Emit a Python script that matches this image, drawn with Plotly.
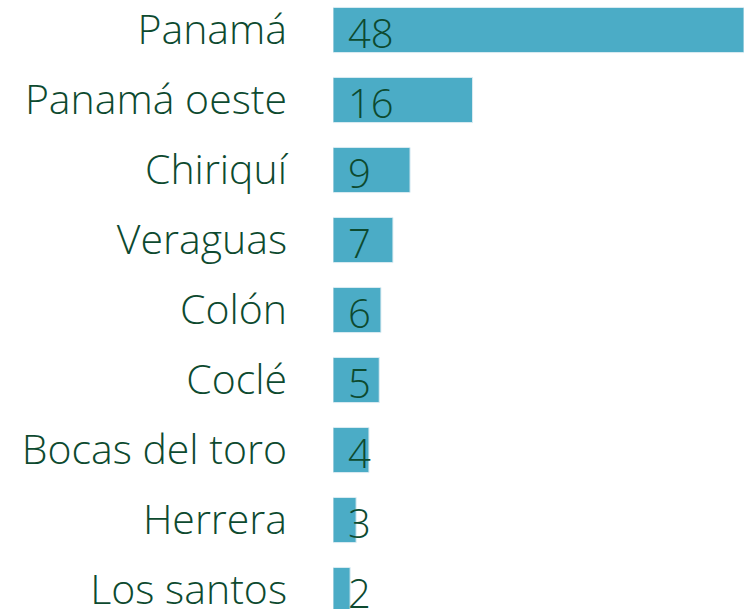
import plotly.graph_objects as go

categories = ["Panamá", "Panamá oeste", "Chiriquí", "Veraguas", "Colón",
              "Coclé", "Bocas del toro", "Herrera", "Los santos"]
values = [48.0, 16.3, 9.0, 7.0, 5.6, 5.4, 4.2, 2.7, 2.0]

TEXT_COLOR = "#0d4a2f"
BAR_COLOR = "#4bacc6"
FONT = "Open Sans"

fig = go.Figure(go.Bar(
    x=values, y=categories, orientation="h",
    marker=dict(color=BAR_COLOR, line=dict(color="#dcecf2", width=1)),
    width=0.645,
))

for c, v in zip(categories, values):
    fig.add_annotation(x=0, y=c, text=f"{v:.0f}", xref="x", yref="y",
                       xanchor="left", yanchor="middle", xshift=13, yshift=-2,
                       showarrow=False,
                       font=dict(family=FONT, size=40, color=TEXT_COLOR, weight=300))

fig.update_layout(
    width=744, height=609,
    margin=dict(l=333, r=0, t=0, b=0, autoexpand=False),
    plot_bgcolor="white", paper_bgcolor="white",
    showlegend=False,
    xaxis=dict(range=[0, 48], visible=False, automargin=False),
    yaxis=dict(range=[8.271, -0.4286], showgrid=False, zeroline=False,
               automargin=False,
               ticks="", ticklabelstandoff=45,
               tickfont=dict(family=FONT, size=41, color=TEXT_COLOR, weight=300)),
)

fig.write_html("out.html",
               config={"displayModeBar": False},
               post_script="document.body.style.margin='0';document.body.style.overflow='hidden';")
